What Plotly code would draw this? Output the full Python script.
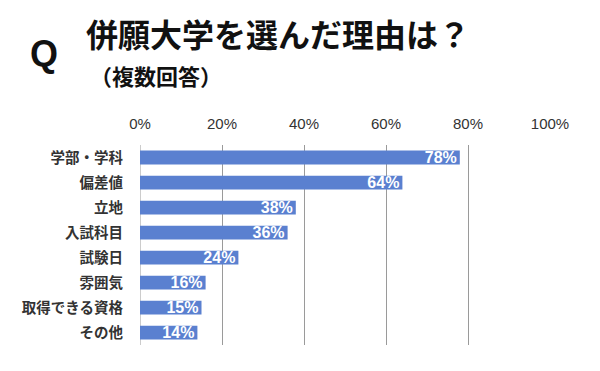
import plotly.graph_objects as go

categories = ["学部・学科", "偏差値", "立地", "入試科目", "試験日", "雰囲気", "取得できる資格", "その他"]
values = [78, 64, 38, 36, 24, 16, 15, 14]
tick_vals = [0, 20, 40, 60, 80, 100]
tick_text = ["0%", "20%", "40%", "60%", "80%", "100%"]

title_main = "併願大学を選んだ理由は？"
title_sub = "（複数回答）"

font_jp = "Noto Sans CJK JP"

fig = go.Figure(go.Bar(
    x=values,
    y=categories,
    orientation="h",
    marker=dict(color="#5a80d0", line=dict(width=0)),
    text=[f"{v}%" for v in values],
    textposition="inside",
    insidetextanchor="end",
    constraintext="none",
    insidetextfont=dict(color="white", size=16, family="Liberation Sans", weight="bold"),
    hoverinfo="skip",
))

fig.update_layout(
    width=600, height=371,
    margin=dict(l=140, r=50, t=145, b=26, autoexpand=False),
    plot_bgcolor="white", paper_bgcolor="white",
    bargap=0.45,
    showlegend=False,
    xaxis=dict(
        range=[0, 100], side="top",
        tickvals=tick_vals, ticktext=tick_text,
        showgrid=True, gridcolor="#9a9a9a", gridwidth=1,
        zeroline=False, showline=False, ticks="",
        tickfont=dict(size=15, color="#333333", family="Liberation Sans"),
        ticklabelstandoff=12,
        automargin=False,
        fixedrange=True,
    ),
    yaxis=dict(
        categoryorder="array", categoryarray=categories,
        autorange="reversed",
        showgrid=False, zeroline=False, showline=False, ticks="",
        tickfont=dict(size=14.5, color="#333333", family=font_jp, weight="bold"),
        ticklabelstandoff=16,
        automargin=False,
        fixedrange=True,
    ),
    shapes=[dict(type="line", xref="x", yref="paper", x0=0, x1=0, y0=0, y1=1,
                 line=dict(color="#9a9a9a", width=1), layer="below")],
    annotations=[
        dict(text="Q", x=44, y=54, showarrow=False,
             font=dict(size=36, color="#111111", family="Liberation Sans", weight="bold"),
             xanchor="center", yanchor="middle"),
        dict(text=title_main, x=84, y=33, showarrow=False,
             font=dict(size=32, color="#111111", family=font_jp, weight="bold"),
             xanchor="left", yanchor="middle"),
        dict(text=title_sub, x=88, y=75, showarrow=False,
             font=dict(size=22, color="#111111", family=font_jp, weight="bold"),
             xanchor="left", yanchor="middle"),
    ],
)

# convert pixel-placed annotations to paper coordinates
pw = 600 - 140 - 50
ph = 371 - 145 - 26
for a in fig.layout.annotations:
    a.xref = "paper"; a.yref = "paper"
    a.x = (a.x - 140) / pw
    a.y = (371 - 26 - a.y) / ph

fig.write_html("out.html", config={"displayModeBar": False, "staticPlot": True},
               post_script="document.body.style.margin='0';")
